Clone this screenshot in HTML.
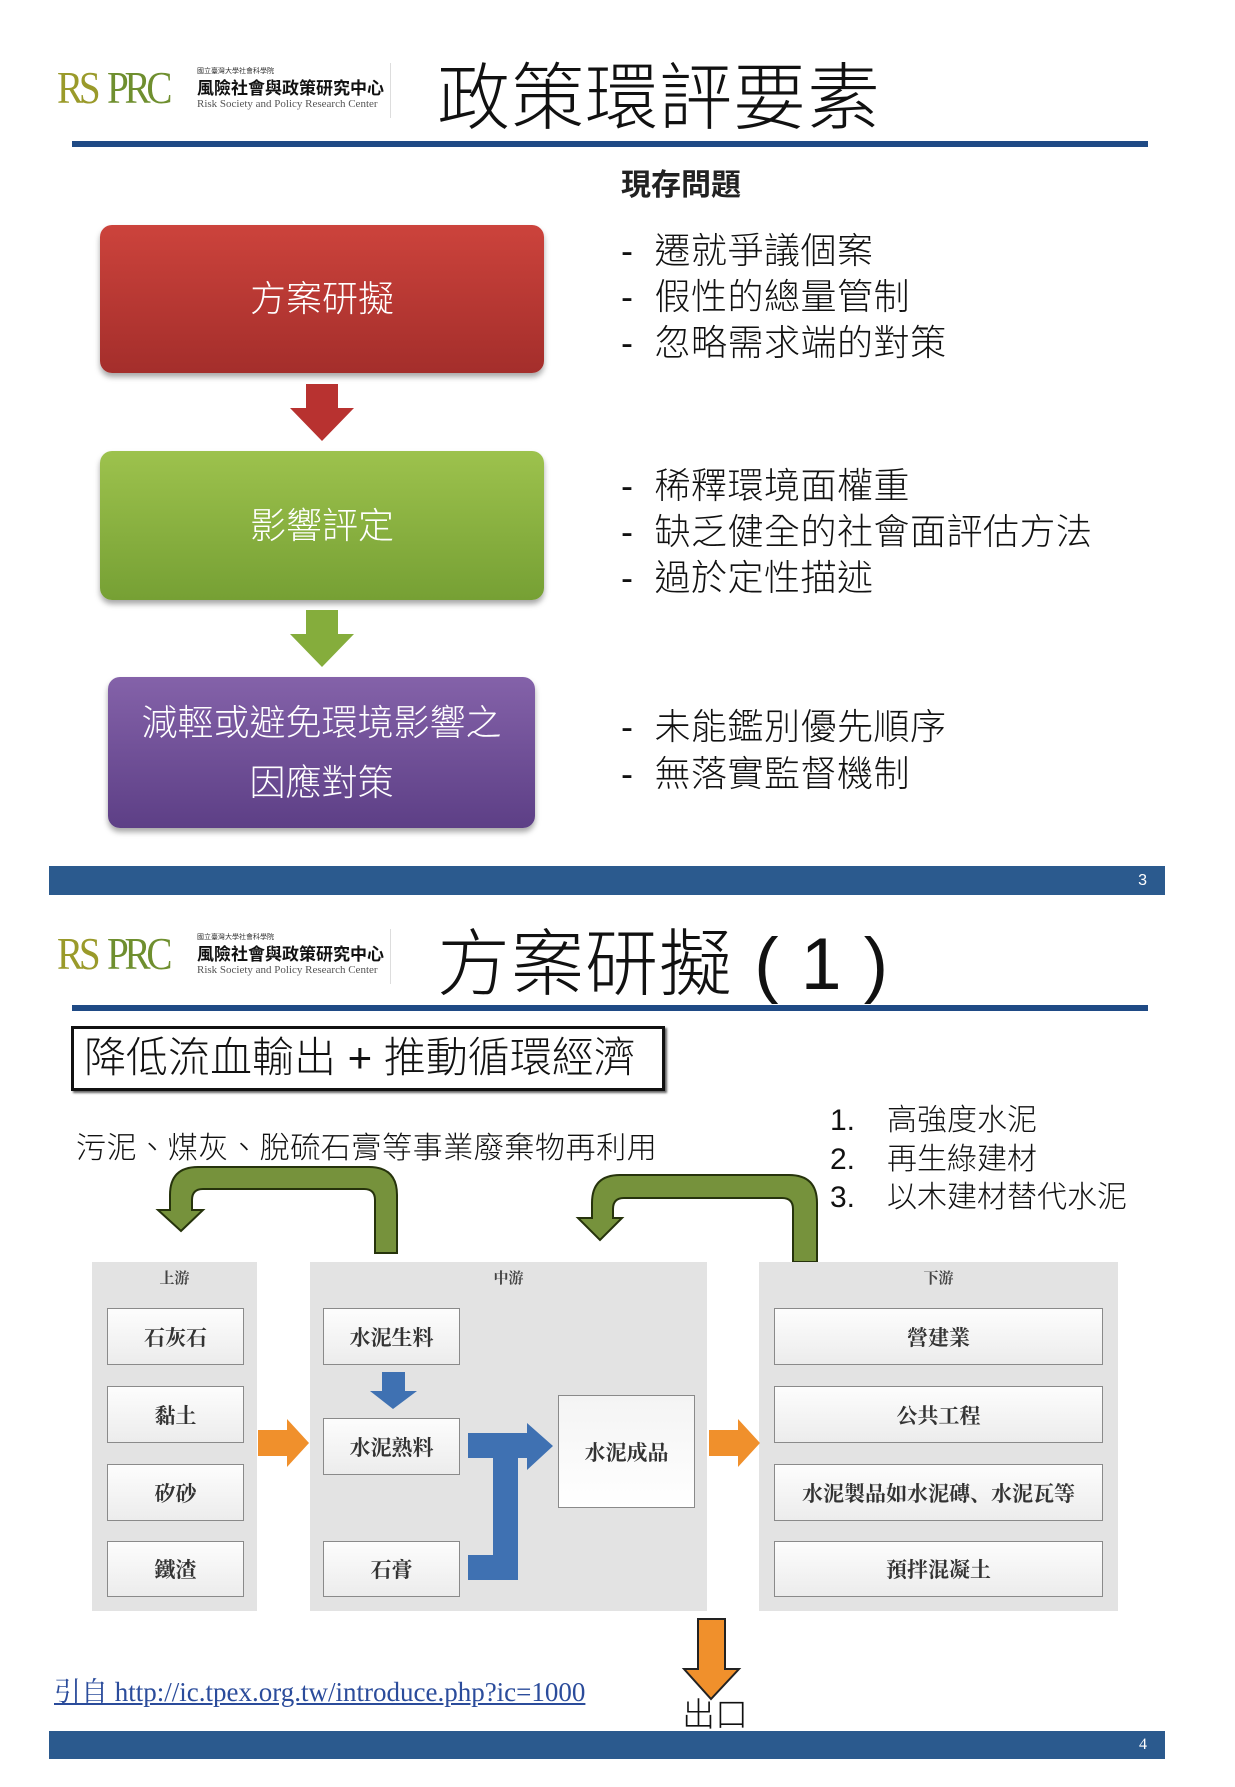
<!DOCTYPE html>
<html><head><meta charset="utf-8"><style>
*{margin:0;padding:0;box-sizing:border-box}
body{width:1235px;height:1787px;background:#fff;position:relative;overflow:hidden;font-family:"Liberation Sans","Noto Sans CJK TC",sans-serif}
.a{position:absolute}
.t{font-weight:300;color:#111;white-space:nowrap}
.box{position:absolute;border-radius:12px;color:#fff;display:flex;align-items:center;justify-content:center;text-align:center;font-size:36px;font-weight:300;box-shadow:0 4px 6px rgba(0,0,0,.35);line-height:60px}
.panel{position:absolute;background:#e3e3e3}
.item{position:absolute;background:linear-gradient(#fdfdfd,#ececec);border:1.5px solid #8a8a8a;display:flex;align-items:center;justify-content:center;font-family:"Liberation Serif","Noto Serif CJK SC",serif;font-weight:bold;font-size:21px;color:#333}
.ptitle{position:absolute;font-family:"Liberation Serif","Noto Serif CJK SC",serif;font-weight:bold;font-size:15px;color:#444;text-align:center}
.bar{position:absolute;left:49px;width:1116px;background:#2b5a8e;color:#fff;font-size:16px;text-align:right;padding-right:18px}
.logo .r{font-family:"Liberation Serif",serif;font-size:46px;letter-spacing:-5px;line-height:50px;transform:scaleX(0.85);transform-origin:left}
.logo div{white-space:nowrap}
</style></head><body>

<!-- slide 1 -->
<div class="a logo" style="left:57px;top:63px;width:335px;height:52px">
 <div class="a r" style="left:0;top:0;color:#9a9a2a">RS</div>
 <div class="a r" style="left:50px;top:0;color:#6f8f2f">PRC</div>
 <div class="a" style="left:140px;top:3px;font-size:7px;color:#333">國立臺灣大學社會科學院</div>
 <div class="a" style="left:140px;top:11px;font-size:17px;font-weight:bold;color:#111;font-family:'Noto Sans CJK TC',sans-serif">風險社會與政策研究中心</div>
 <div class="a" style="left:140px;top:35px;font-size:11px;color:#555;font-family:'Liberation Serif',serif">Risk Society and Policy Research Center</div>
 <div class="a" style="left:333px;top:0;width:1px;height:55px;background:#ddd"></div>
</div>
<div class="a t" style="left:437px;top:54px;font-size:73px;line-height:90px;letter-spacing:1px">政策環評要素</div>
<div class="a" style="left:72px;top:141px;width:1076px;height:6px;background:#1f4a85"></div>

<div class="a" style="left:621px;top:160px;font-size:30px;font-weight:bold;color:#222;font-family:'Noto Sans CJK TC',sans-serif">現存問題</div>

<div class="box" style="left:100px;top:225px;width:444px;height:148px;background:linear-gradient(#cc433c,#a42e2b)">方案研擬</div>
<svg class="a" style="left:285px;top:384px" width="74" height="60"><polygon points="16,0 48,0 48,24 64,24 32,57 0,24 16,24" transform="translate(5,0)" fill="#b83230"/></svg>
<div class="box" style="left:100px;top:451px;width:444px;height:149px;background:linear-gradient(#9dc24d,#76a034)">影響評定</div>
<svg class="a" style="left:285px;top:610px" width="74" height="60"><polygon points="16,0 48,0 48,24 64,24 32,57 0,24 16,24" transform="translate(5,0)" fill="#85ad3c"/></svg>
<div class="box" style="left:108px;top:677px;width:427px;height:151px;background:linear-gradient(#8462a9,#5d3f86)">減輕或避免環境影響之<br>因應對策</div>

<div class="a t" style="left:621px;top:228px;font-size:36px;line-height:46px;letter-spacing:0.5px">-&nbsp; 遷就爭議個案<br>-&nbsp; 假性的總量管制<br>-&nbsp; 忽略需求端的對策</div>
<div class="a t" style="left:621px;top:463px;font-size:36px;line-height:46px;letter-spacing:0.5px">-&nbsp; 稀釋環境面權重<br>-&nbsp; 缺乏健全的社會面評估方法<br>-&nbsp; 過於定性描述</div>
<div class="a t" style="left:621px;top:703px;font-size:36px;line-height:47px;letter-spacing:0.5px">-&nbsp; 未能鑑別優先順序<br>-&nbsp; 無落實監督機制</div>

<div class="bar" style="top:866px;height:29px;line-height:29px">3</div>

<!-- slide 2 -->
<div class="a logo" style="left:57px;top:929px;width:335px;height:52px">
 <div class="a r" style="left:0;top:0;color:#9a9a2a">RS</div>
 <div class="a r" style="left:50px;top:0;color:#6f8f2f">PRC</div>
 <div class="a" style="left:140px;top:3px;font-size:7px;color:#333">國立臺灣大學社會科學院</div>
 <div class="a" style="left:140px;top:11px;font-size:17px;font-weight:bold;color:#111;font-family:'Noto Sans CJK TC',sans-serif">風險社會與政策研究中心</div>
 <div class="a" style="left:140px;top:35px;font-size:11px;color:#555;font-family:'Liberation Serif',serif">Risk Society and Policy Research Center</div>
 <div class="a" style="left:333px;top:0;width:1px;height:55px;background:#ddd"></div>
</div>
<div class="a t" style="left:437px;top:920px;font-size:73px;line-height:90px;letter-spacing:1px">方案研擬 ( 1 )</div>
<div class="a" style="left:72px;top:1005px;width:1076px;height:6px;background:#1f4a85"></div>

<div class="a" style="left:71px;top:1026px;width:594px;height:65px;border:3px solid #111;box-shadow:2px 2px 2px #666"></div>
<div class="a t" style="left:84px;top:1030px;font-size:42px;line-height:56px">降低流血輸出 + 推動循環經濟</div>

<div class="a t" style="left:76px;top:1130px;font-size:30px;line-height:38px;letter-spacing:0.6px">污泥、煤灰、脫硫石膏等事業廢棄物再利用</div>
<div class="a t" style="left:830px;top:1102px;font-size:30px;line-height:38.5px">1.<br>2.<br>3.</div>
<div class="a t" style="left:887px;top:1102px;font-size:30px;line-height:38.5px">高強度水泥<br>再生綠建材<br>以木建材替代水泥</div>

<svg class="a" style="left:0;top:0" width="1235" height="1787">
 <path d="M397,1253 L397,1195 Q397,1167 369,1167 L198,1167 Q170,1167 170,1195 L170,1210 L158,1210 L181,1231 L203,1210 L192,1210 L192,1200 Q192,1189 203,1189 L364,1189 Q375,1189 375,1200 L375,1253 Z" fill="#76923c" stroke="#26330c" stroke-width="2"/>
 <path d="M817,1262 L817,1203 Q817,1175 789,1175 L620,1175 Q592,1175 592,1203 L592,1218 L578,1218 L600,1240 L622,1218 L613,1218 L613,1209 Q613,1198 624,1198 L782,1198 Q793,1198 793,1209 L793,1262 Z" fill="#76923c" stroke="#26330c" stroke-width="2"/>
</svg>

<div class="panel" style="left:92px;top:1262px;width:165px;height:349px"></div>
<div class="panel" style="left:310px;top:1262px;width:397px;height:349px"></div>
<div class="panel" style="left:759px;top:1262px;width:359px;height:349px"></div>
<div class="ptitle" style="left:92px;top:1267px;width:165px">上游</div>
<div class="ptitle" style="left:310px;top:1267px;width:397px">中游</div>
<div class="ptitle" style="left:759px;top:1267px;width:359px">下游</div>

<div class="item" style="left:107px;top:1308px;width:137px;height:57px">石灰石</div>
<div class="item" style="left:107px;top:1386px;width:137px;height:57px">黏土</div>
<div class="item" style="left:107px;top:1464px;width:137px;height:57px">矽砂</div>
<div class="item" style="left:107px;top:1541px;width:137px;height:56px">鐵渣</div>

<div class="item" style="left:323px;top:1308px;width:137px;height:57px">水泥生料</div>
<div class="item" style="left:323px;top:1418px;width:137px;height:57px">水泥熟料</div>
<div class="item" style="left:323px;top:1541px;width:137px;height:56px">石膏</div>
<div class="item" style="left:558px;top:1395px;width:137px;height:113px;background:linear-gradient(#f4f4f4,#fff)">水泥成品</div>

<div class="item" style="left:774px;top:1308px;width:329px;height:57px">營建業</div>
<div class="item" style="left:774px;top:1386px;width:329px;height:57px">公共工程</div>
<div class="item" style="left:774px;top:1464px;width:329px;height:57px">水泥製品如水泥磚、水泥瓦等</div>
<div class="item" style="left:774px;top:1541px;width:329px;height:56px">預拌混凝土</div>

<svg class="a" style="left:0;top:0" width="1235" height="1787">
 <polygon points="382,1372 405,1372 405,1391 417,1391 393,1409 370,1391 382,1391" fill="#3f71b2"/>
 <polygon points="468,1433 527,1433 527,1423 553,1446 527,1470 527,1458 518,1458 518,1580 468,1580 468,1555 493,1555 493,1458 468,1458" fill="#3f71b2"/>
 <polygon points="258,1430 287,1430 287,1419 309,1443 287,1467 287,1456 258,1456" fill="#f0902c"/>
 <polygon points="709,1430 738,1430 738,1419 760,1443 738,1467 738,1456 709,1456" fill="#f0902c"/>
 <polygon points="698,1619 725,1619 725,1669 739,1669 711,1699 684,1669 698,1669" fill="#f0902c" stroke="#222" stroke-width="2"/>
</svg>

<div class="a" style="left:54px;top:1670px;font-size:27px;color:#2b4c9b;font-family:'Liberation Serif','Noto Serif CJK SC',serif;text-decoration:underline;white-space:nowrap">引自 http://ic.tpex.org.tw/introduce.php?ic=1000</div>
<div class="a t" style="left:682px;top:1695px;font-size:33px;line-height:40px">出口</div>

<div class="bar" style="top:1731px;height:28px;line-height:28px;font-family:'Liberation Serif',serif">4</div>
</body></html>
